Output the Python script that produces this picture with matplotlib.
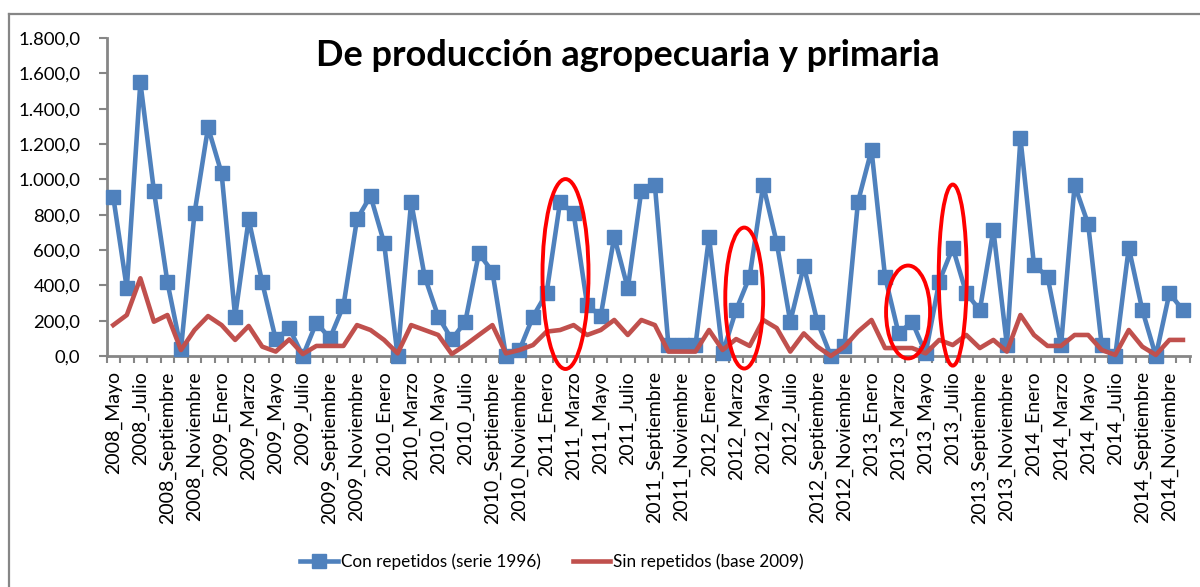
import matplotlib
matplotlib.use("Agg")
import matplotlib.pyplot as plt
from matplotlib.patches import Ellipse
from matplotlib.lines import Line2D
from matplotlib.ticker import FuncFormatter, FixedLocator

plt.rcParams['font.family'] = ['Lato', 'DejaVu Sans']

months = ["Enero", "Febrero", "Marzo", "Abril", "Mayo", "Junio", "Julio",
          "Agosto", "Septiembre", "Octubre", "Noviembre", "Diciembre"]
categories = []
for year in range(2008, 2015):
    for mi, m in enumerate(months):
        if year == 2008 and mi < 4:
            continue
        categories.append(f"{year}_{m}")

con_repetidos = [900, 383, 1550, 936, 417, 40, 808, 1294, 1034, 223,
                 774, 417, 94, 157, 0, 189, 100, 285, 774, 906,
                 641, 0, 873, 449, 223, 94, 194, 581, 477, 0,
                 34, 223, 355, 873, 808, 289, 226, 675, 383, 936,
                 968, 62, 62, 62, 675, 15, 260, 449, 968, 641,
                 194, 509, 194, 0, 57, 873, 1166, 449, 128, 194,
                 15, 421, 613, 355, 260, 713, 62, 1232, 515, 449,
                 62, 968, 747, 62, 0, 613, 260, 0, 355, 260]

sin_repetidos = [175, 232, 440, 194, 232, 34, 147, 226, 175, 91,
                 170, 53, 25, 94, 11, 57, 57, 57, 175, 147,
                 91, 15, 175, 147, 119, 11, 62, 119, 175, 15,
                 34, 62, 138, 147, 175, 119, 147, 204, 119, 204,
                 175, 25, 25, 25, 147, 34, 96, 57, 204, 158,
                 25, 128, 53, 0, 53, 138, 204, 45, 45, 45,
                 15, 91, 62, 119, 45, 91, 25, 232, 119, 57,
                 57, 119, 119, 34, 6, 147, 53, 6, 91, 91]

series_labels = ["Con repetidos (serie 1996)", "Sin repetidos (base 2009)"]
title = "De producción agropecuaria y primaria"
y_ticks = [0, 200, 400, 600, 800, 1000, 1200, 1400, 1600, 1800]

# annotation ellipses (center idx, center value, width idx, height value)
ellipses = [(33.4, 464, 3.4, 1075), (46.6, 328, 2.8, 798),
            (58.7, 249, 3.25, 526), (62.0, 458, 2.07, 1025)]

blue = "#4F81BD"
red = "#C0504D"
gray = "#868686"

fig = plt.figure(figsize=(12, 5.87), dpi=100)
ax = fig.add_axes([106.5 / 1200, 1 - 356 / 587, (1189.7 - 106.5) / 1200, (356 - 38) / 587])

x = list(range(len(categories)))
ax.plot(x, con_repetidos, color=blue, lw=3.3, marker="s", ms=9.5,
        mec=blue, mfc=blue, clip_on=False, zorder=3, label=series_labels[0])
ax.plot(x, sin_repetidos, color=red, lw=3.3, clip_on=False, zorder=4,
        label=series_labels[1])

ax.set_xlim(-0.5, len(categories) - 0.5)
ax.set_ylim(0, 1800)

def fmt(v, pos):
    s = f"{v:,.1f}"
    return s.replace(",", "X").replace(".", ",").replace("X", ".")

ax.yaxis.set_major_locator(FixedLocator(y_ticks))
ax.yaxis.set_major_formatter(FuncFormatter(fmt))

ax.set_xticks(x[::2])
ax.set_xticklabels(categories[::2], rotation=90, ha="center", va="top")
ax.set_xticks([i - 0.5 for i in range(len(categories) + 1)], minor=True)
ax.tick_params(axis="x", which="major", length=0, pad=11, labelsize=14, colors="black")
ax.tick_params(axis="x", which="minor", length=5, width=1.5, color=gray, direction="out")
ax.tick_params(axis="y", length=6, width=1.5, color=gray, labelsize=13.3, pad=13)

for s in ["top", "right"]:
    ax.spines[s].set_visible(False)
for s in ["left", "bottom"]:
    ax.spines[s].set_color(gray)
    ax.spines[s].set_linewidth(2)

for cx, cy, w, h in ellipses:
    e = Ellipse((cx, cy), w, h, fill=False, edgecolor="#FF0000", lw=2.8,
                clip_on=False, zorder=6)
    ax.add_patch(e)

fig.text(0.523, 1 - 55 / 587, title, ha="center", va="center",
         fontsize=26, fontweight="bold")

leg = fig.legend(loc="center", bbox_to_anchor=(0.460, 1 - 562 / 587), ncol=2,
                 frameon=False, fontsize=12.3, handlelength=2.2, columnspacing=1.9,
                 handletextpad=0.15)

# outer chart border (left and top visible)
fig.add_artist(Line2D([8.5 / 1200, 8.5 / 1200], [0, 1 - 13.5 / 587],
                      transform=fig.transFigure, color=gray, lw=1.6))
fig.add_artist(Line2D([8.5 / 1200, 1], [1 - 13.5 / 587, 1 - 13.5 / 587],
                      transform=fig.transFigure, color=gray, lw=1.6))

fig.savefig("out.png", dpi=100)
